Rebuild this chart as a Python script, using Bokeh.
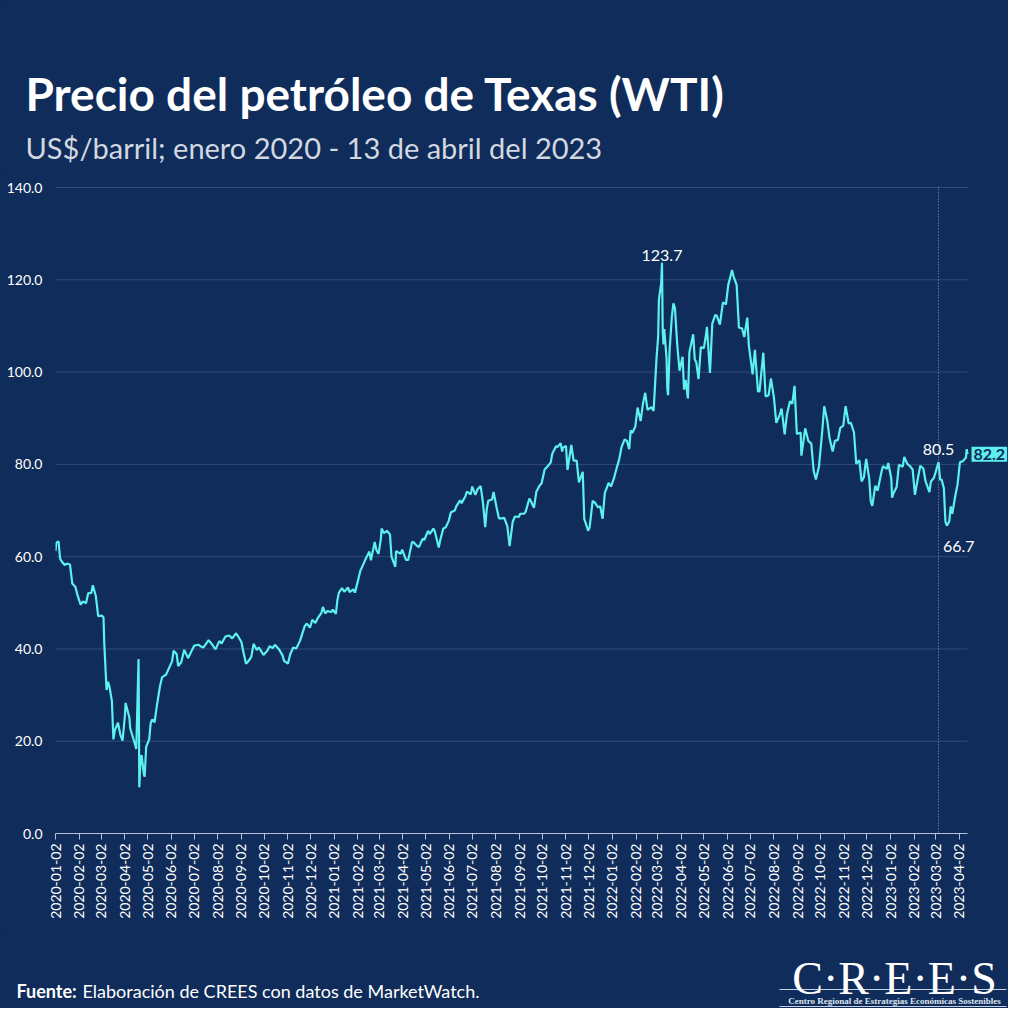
from math import pi
import pandas as pd
from bokeh.plotting import figure
from bokeh.layouts import column
from bokeh.models import (Range1d, FixedTicker, NumeralTickFormatter,
                          DatetimeTickFormatter, Label, Span)
from bokeh.embed import file_html
from bokeh.resources import INLINE

BG = "#0f2c5a"
CYAN = "#5cf0ee"
FONT = "Lato"

# WTI closes (US$/barril)
data = [
    ("2020-01-02", 61.2), ("2020-01-03", 63.0), ("2020-01-06", 63.3), ("2020-01-08", 59.6),
    ("2020-01-10", 59.0), ("2020-01-14", 58.2), ("2020-01-17", 58.5), ("2020-01-21", 58.3),
    ("2020-01-24", 54.2), ("2020-01-28", 53.5), ("2020-01-31", 51.6), ("2020-02-04", 49.6),
    ("2020-02-07", 50.3), ("2020-02-11", 49.9), ("2020-02-14", 52.1), ("2020-02-18", 52.1),
    ("2020-02-20", 53.8), ("2020-02-24", 51.4), ("2020-02-27", 47.1), ("2020-03-03", 47.2),
    ("2020-03-05", 46.8), ("2020-03-06", 41.3), ("2020-03-09", 31.1), ("2020-03-11", 32.9),
    ("2020-03-13", 31.7), ("2020-03-16", 28.7), ("2020-03-18", 20.4), ("2020-03-20", 22.4),
    ("2020-03-24", 24.0), ("2020-03-27", 21.5), ("2020-03-30", 20.1), ("2020-04-02", 25.3),
    ("2020-04-03", 28.3), ("2020-04-08", 25.1), ("2020-04-09", 22.8), ("2020-04-14", 20.1),
    ("2020-04-17", 18.3), ("2020-04-20", 37.8), ("2020-04-21", 10.0), ("2020-04-22", 13.8),
    ("2020-04-23", 16.5), ("2020-04-24", 17.0), ("2020-04-27", 12.8), ("2020-04-28", 12.3),
    ("2020-04-30", 18.8), ("2020-05-04", 20.4), ("2020-05-06", 24.0), ("2020-05-08", 24.7),
    ("2020-05-11", 24.1), ("2020-05-14", 27.6), ("2020-05-18", 31.8), ("2020-05-21", 33.9),
    ("2020-05-26", 34.4), ("2020-05-29", 35.5), ("2020-06-03", 37.3), ("2020-06-05", 39.6),
    ("2020-06-09", 38.9), ("2020-06-11", 36.3), ("2020-06-15", 37.1), ("2020-06-19", 39.8),
    ("2020-06-24", 38.0), ("2020-06-29", 39.7), ("2020-07-02", 40.7), ("2020-07-08", 40.9),
    ("2020-07-10", 40.6), ("2020-07-14", 40.3), ("2020-07-21", 41.9), ("2020-07-24", 41.3),
    ("2020-07-30", 39.9), ("2020-08-04", 41.7), ("2020-08-07", 41.2), ("2020-08-12", 42.7),
    ("2020-08-17", 42.9), ("2020-08-21", 42.3), ("2020-08-26", 43.4), ("2020-08-28", 42.9),
    ("2020-09-02", 41.5), ("2020-09-04", 39.8), ("2020-09-08", 36.8), ("2020-09-11", 37.3),
    ("2020-09-15", 38.3), ("2020-09-18", 41.1), ("2020-09-22", 39.8), ("2020-09-25", 40.3),
    ("2020-10-01", 38.7), ("2020-10-06", 39.6), ("2020-10-09", 40.6), ("2020-10-13", 40.2),
    ("2020-10-16", 40.9), ("2020-10-21", 40.0), ("2020-10-26", 38.6), ("2020-10-28", 37.4),
    ("2020-11-02", 36.8), ("2020-11-05", 38.8), ("2020-11-09", 40.3), ("2020-11-13", 40.1),
    ("2020-11-18", 41.8), ("2020-11-24", 44.9), ("2020-11-27", 45.5), ("2020-12-01", 44.6),
    ("2020-12-04", 46.3), ("2020-12-08", 45.6), ("2020-12-11", 46.6), ("2020-12-16", 47.8),
    ("2020-12-18", 49.1), ("2020-12-21", 47.7), ("2020-12-24", 48.2), ("2020-12-29", 48.0),
    ("2020-12-31", 48.5),
    ("2021-01-04", 47.6), ("2021-01-06", 50.6), ("2021-01-08", 52.2), ("2021-01-12", 53.2),
    ("2021-01-15", 52.4), ("2021-01-20", 53.3), ("2021-01-22", 52.3), ("2021-01-27", 52.9),
    ("2021-01-29", 52.2), ("2021-02-02", 54.8), ("2021-02-05", 56.9), ("2021-02-10", 58.7),
    ("2021-02-12", 59.5), ("2021-02-17", 61.1), ("2021-02-19", 59.2), ("2021-02-24", 63.2),
    ("2021-02-26", 61.5), ("2021-03-01", 60.6), ("2021-03-04", 63.8), ("2021-03-05", 66.1),
    ("2021-03-08", 65.1), ("2021-03-12", 65.6), ("2021-03-16", 64.8), ("2021-03-18", 60.0),
    ("2021-03-23", 57.8), ("2021-03-24", 61.2), ("2021-03-26", 61.0), ("2021-03-30", 60.6),
    ("2021-04-01", 61.5), ("2021-04-06", 59.3), ("2021-04-09", 59.3), ("2021-04-14", 63.2),
    ("2021-04-16", 63.1), ("2021-04-20", 62.4), ("2021-04-23", 62.1), ("2021-04-28", 63.9),
    ("2021-04-30", 63.6), ("2021-05-05", 65.6), ("2021-05-07", 64.9), ("2021-05-12", 66.1),
    ("2021-05-14", 65.4), ("2021-05-19", 62.0), ("2021-05-21", 63.6), ("2021-05-25", 66.1),
    ("2021-05-28", 66.3), ("2021-06-01", 67.7), ("2021-06-04", 69.6), ("2021-06-09", 70.0),
    ("2021-06-11", 70.9), ("2021-06-16", 72.2), ("2021-06-18", 71.6), ("2021-06-23", 73.1),
    ("2021-06-25", 74.1), ("2021-06-30", 73.5), ("2021-07-02", 75.2), ("2021-07-06", 73.4),
    ("2021-07-09", 74.6), ("2021-07-13", 75.3), ("2021-07-16", 71.8), ("2021-07-19", 66.4),
    ("2021-07-21", 70.3), ("2021-07-23", 72.1), ("2021-07-28", 72.4), ("2021-07-30", 74.0),
    ("2021-08-03", 70.6), ("2021-08-06", 68.3), ("2021-08-10", 68.3), ("2021-08-13", 68.4),
    ("2021-08-17", 66.6), ("2021-08-20", 62.3), ("2021-08-24", 67.5), ("2021-08-27", 68.7),
    ("2021-09-01", 68.6), ("2021-09-03", 69.3), ("2021-09-08", 69.3), ("2021-09-10", 69.7),
    ("2021-09-15", 72.6), ("2021-09-17", 72.0), ("2021-09-21", 70.6), ("2021-09-24", 74.0),
    ("2021-09-28", 75.3), ("2021-10-01", 75.9), ("2021-10-05", 78.9), ("2021-10-08", 79.4),
    ("2021-10-13", 80.4), ("2021-10-15", 82.3), ("2021-10-20", 83.9), ("2021-10-22", 83.8),
    ("2021-10-26", 84.6), ("2021-10-28", 82.8), ("2021-10-29", 83.6), ("2021-11-02", 84.0),
    ("2021-11-04", 78.8), ("2021-11-09", 84.2), ("2021-11-12", 80.8), ("2021-11-16", 80.8),
    ("2021-11-19", 76.1), ("2021-11-24", 78.4), ("2021-11-26", 68.2), ("2021-11-30", 66.2),
    ("2021-12-01", 65.6), ("2021-12-03", 66.3), ("2021-12-07", 72.1), ("2021-12-10", 71.7),
    ("2021-12-14", 70.7), ("2021-12-17", 70.9), ("2021-12-20", 68.2), ("2021-12-23", 73.8),
    ("2021-12-28", 76.0), ("2021-12-31", 75.2),
    ("2022-01-04", 77.0), ("2022-01-07", 78.9), ("2022-01-11", 81.2), ("2022-01-14", 83.8),
    ("2022-01-18", 85.4), ("2022-01-21", 85.1), ("2022-01-24", 83.3), ("2022-01-26", 87.4),
    ("2022-01-28", 86.8), ("2022-02-01", 88.2), ("2022-02-04", 92.3), ("2022-02-08", 89.4),
    ("2022-02-11", 93.1), ("2022-02-14", 95.5), ("2022-02-17", 91.8), ("2022-02-22", 92.4),
    ("2022-02-25", 91.6), ("2022-03-01", 103.4), ("2022-03-03", 107.7), ("2022-03-04", 115.7),
    ("2022-03-07", 119.4), ("2022-03-08", 123.7), ("2022-03-09", 108.7), ("2022-03-10", 106.0),
    ("2022-03-11", 109.3), ("2022-03-14", 103.0), ("2022-03-15", 96.4), ("2022-03-16", 95.0),
    ("2022-03-18", 104.7), ("2022-03-21", 112.1), ("2022-03-23", 114.9), ("2022-03-25", 113.9),
    ("2022-03-28", 106.0), ("2022-03-31", 100.3), ("2022-04-04", 103.3), ("2022-04-06", 96.2),
    ("2022-04-08", 98.3), ("2022-04-11", 94.3), ("2022-04-13", 104.3), ("2022-04-18", 108.2),
    ("2022-04-20", 102.8), ("2022-04-22", 102.1), ("2022-04-25", 98.5), ("2022-04-28", 105.4),
    ("2022-05-02", 105.2), ("2022-05-05", 108.3), ("2022-05-06", 109.8), ("2022-05-10", 99.8),
    ("2022-05-13", 110.5), ("2022-05-17", 112.4), ("2022-05-19", 112.2), ("2022-05-23", 110.3),
    ("2022-05-27", 115.1), ("2022-05-31", 114.7), ("2022-06-03", 118.9), ("2022-06-08", 122.1),
    ("2022-06-10", 120.7), ("2022-06-14", 118.9), ("2022-06-17", 109.6), ("2022-06-21", 109.5),
    ("2022-06-24", 107.6), ("2022-06-28", 111.8), ("2022-06-30", 105.8), ("2022-07-05", 99.5),
    ("2022-07-08", 104.8), ("2022-07-12", 95.8), ("2022-07-14", 95.8), ("2022-07-19", 104.2),
    ("2022-07-22", 94.7), ("2022-07-26", 95.0), ("2022-07-29", 98.6), ("2022-08-02", 94.4),
    ("2022-08-05", 89.0), ("2022-08-09", 90.5), ("2022-08-12", 92.1), ("2022-08-16", 86.5),
    ("2022-08-19", 90.8), ("2022-08-23", 93.7), ("2022-08-26", 93.1), ("2022-08-29", 97.0),
    ("2022-09-01", 86.6), ("2022-09-06", 86.9), ("2022-09-07", 81.9), ("2022-09-12", 87.8),
    ("2022-09-16", 85.1), ("2022-09-20", 84.5), ("2022-09-23", 78.7), ("2022-09-26", 76.7),
    ("2022-09-30", 79.5), ("2022-10-04", 86.5), ("2022-10-07", 92.6), ("2022-10-11", 89.4),
    ("2022-10-14", 85.6), ("2022-10-18", 82.8), ("2022-10-21", 85.1), ("2022-10-25", 85.3),
    ("2022-10-28", 87.9), ("2022-11-01", 88.4), ("2022-11-04", 92.6), ("2022-11-08", 88.9),
    ("2022-11-11", 89.0), ("2022-11-15", 86.9), ("2022-11-18", 80.1), ("2022-11-22", 80.9),
    ("2022-11-25", 76.3), ("2022-11-28", 77.2), ("2022-12-01", 81.2), ("2022-12-05", 76.9),
    ("2022-12-07", 72.0), ("2022-12-09", 71.0), ("2022-12-13", 75.4), ("2022-12-16", 74.3),
    ("2022-12-21", 78.3), ("2022-12-23", 79.6), ("2022-12-28", 79.0), ("2022-12-30", 80.3),
    ("2023-01-03", 76.9), ("2023-01-04", 72.8), ("2023-01-06", 73.8), ("2023-01-10", 75.1),
    ("2023-01-13", 79.9), ("2023-01-18", 79.5), ("2023-01-20", 81.6), ("2023-01-24", 80.1),
    ("2023-01-27", 79.7), ("2023-01-31", 78.9), ("2023-02-03", 73.4), ("2023-02-07", 77.1),
    ("2023-02-10", 79.7), ("2023-02-14", 79.1), ("2023-02-17", 76.3), ("2023-02-22", 74.0),
    ("2023-02-24", 76.3), ("2023-02-28", 77.1), ("2023-03-02", 78.2), ("2023-03-06", 80.5),
    ("2023-03-08", 76.7), ("2023-03-10", 76.7), ("2023-03-13", 74.8), ("2023-03-15", 67.6),
    ("2023-03-17", 66.7), ("2023-03-20", 67.6), ("2023-03-22", 70.9), ("2023-03-24", 69.3),
    ("2023-03-28", 73.2), ("2023-03-31", 75.7), ("2023-04-03", 80.4), ("2023-04-05", 80.6),
    ("2023-04-07", 80.7), ("2023-04-11", 81.5), ("2023-04-12", 83.3), ("2023-04-13", 82.2),
]
dates = pd.to_datetime([d for d, v in data])
prices = [v for d, v in data]

y_ticks = [0, 20, 40, 60, 80, 100, 120, 140]
tick_dates = pd.date_range("2020-01-02", "2023-04-02", freq=pd.DateOffset(months=1))

peak = ("2022-03-08", 123.7)
mark = ("2023-03-06", 80.5)
low = ("2023-03-17", 66.7)
last = ("2023-04-13", 82.2)

title = "Precio del petróleo de Texas (WTI)"
subtitle = "US$/barril; enero 2020 - 13 de abril del 2023"
source_bold = "Fuente:"
source_text = "Elaboración de CREES con datos de MarketWatch."
logo = "C·R·E·E·S"
logo_sub = "Centro Regional de Estrategias Económicas Sostenibles"


def ms(d):
    return pd.Timestamp(d).timestamp() * 1000


W = 1008


def style(f):
    f.background_fill_color = BG
    f.border_fill_color = BG
    f.outline_line_color = None
    f.grid.grid_line_color = None
    f.styles = {"background-color": BG}
    if "frame_align" in f.properties():
        f.frame_align = False
    return f


def blank(h):
    f = figure(width=W, height=h, x_range=Range1d(0, W), y_range=Range1d(h, 0),
               x_axis_location=None, y_axis_location=None,
               output_backend="svg", toolbar_location=None, min_border=0)
    return style(f)


# header
head = blank(170)
head.add_layout(Label(x=25, y=93, text=title, text_font=FONT, text_font_size="46px",
                      text_font_style="bold", text_color="white",
                      text_baseline="alphabetic"))
head.add_layout(Label(x=25, y=147, text=subtitle, text_font=FONT, text_font_size="29px",
                      text_color="#d3d8e0", text_baseline="alphabetic"))

# main chart: frame runs to the right edge so the end label fits
x0, x_last = ms("2020-01-02"), ms(last[0])
left, right_data = 55, 967
x1 = x0 + (x_last - x0) * (W - left) / (right_data - left)

p = figure(width=W, height=760, x_axis_type="datetime",
           x_range=Range1d(x0, x1), y_range=Range1d(0, 140.22),
           output_backend="svg", toolbar_location=None,
           min_border_left=left, min_border_right=0,
           min_border_top=16, min_border_bottom=97)
style(p)

# horizontal grid, stopping at the last date
p.segment(x0=[x0] * (len(y_ticks) - 1), y0=y_ticks[1:],
          x1=[x_last] * (len(y_ticks) - 1), y1=y_ticks[1:],
          line_color="#2f4c7c", line_width=1)

p.add_layout(Span(location=ms(mark[0]), dimension="height",
                  line_color="#9aa6b8", line_dash="1 2", line_width=1))

p.line(dates, prices, line_color=CYAN, line_width=2.2)

fmt = "%Y-%m-%d"
p.xaxis.ticker = FixedTicker(ticks=[ms(d) for d in tick_dates])
p.xaxis.formatter = DatetimeTickFormatter(
    milliseconds=fmt, seconds=fmt, minsec=fmt, minutes=fmt, hourmin=fmt,
    hours=fmt, days=fmt, months=fmt, years=fmt)
p.xaxis.bounds = (x0, x_last)
p.xaxis.major_label_orientation = pi / 2
p.xaxis.major_label_text_font = FONT
p.xaxis.major_label_text_font_size = "14px"
p.xaxis.major_label_text_color = "white"
p.xaxis.axis_line_color = "#b8c2d4"
p.xaxis.major_tick_line_color = "#b8c2d4"
p.xaxis.major_tick_out = 6
p.xaxis.major_tick_in = 0
p.xaxis.minor_tick_line_color = None
p.xaxis.major_label_standoff = 4

p.yaxis.ticker = FixedTicker(ticks=y_ticks)
p.yaxis.formatter = NumeralTickFormatter(format="0.0")
p.yaxis.axis_line_color = None
p.yaxis.major_tick_line_color = None
p.yaxis.major_tick_out = 0
p.yaxis.major_tick_in = 0
p.yaxis.minor_tick_line_color = None
p.yaxis.major_label_text_font = FONT
p.yaxis.major_label_text_font_size = "14px"
p.yaxis.major_label_text_color = "white"
p.yaxis.major_label_standoff = 13

lab = dict(text_font=FONT, text_font_size="16px", text_color="white",
           text_baseline="alphabetic")
p.add_layout(Label(x=ms(peak[0]), y=peak[1], text=f"{peak[1]:.1f}",
                   text_align="center", y_offset=7, **lab))
p.add_layout(Label(x=ms(mark[0]), y=mark[1], text=f"{mark[1]:.1f}",
                   text_align="center", y_offset=13, **lab))
p.add_layout(Label(x=ms(low[0]), y=low[1], text=f"{low[1]:.1f}",
                   text_align="left", x_offset=-4, y_offset=-21, **lab))
p.add_layout(Label(x=x_last, y=last[1], text=f"{last[1]:.1f}",
                   text_align="left", text_baseline="middle", x_offset=4,
                   text_font=FONT, text_font_size="16px", text_font_style="bold",
                   text_color=BG, background_fill_color=CYAN, padding=2))

# footer with source and logo
foot = blank(78)
foot.add_layout(Label(x=16, y=60, text=source_bold, text_font=FONT, text_font_size="18px",
                      text_font_style="bold", text_color="white", text_baseline="alphabetic"))
foot.add_layout(Label(x=82, y=60, text=source_text, text_font=FONT, text_font_size="18px",
                      text_color="white", text_baseline="alphabetic"))
foot.add_layout(Label(x=894, y=48, text=logo, text_align="center",
                      text_font="Liberation Serif", text_font_size="46px",
                      text_color="white", text_baseline="alphabetic"))
foot.add_layout(Label(x=894, y=70, text=logo_sub, text_align="center",
                      text_font="Liberation Serif", text_font_size="9px",
                      text_font_style="bold", text_color="#dfe4ee",
                      text_baseline="alphabetic"))
foot.segment(x0=[779, 779], y0=[59, 76], x1=[1006, 1006], y1=[59, 76],
             line_color="#c8d0e0", line_width=1)

layout = column(head, p, foot, spacing=0)
layout.styles = {"background-color": BG}
open("out.html", "w").write(file_html(layout, INLINE))
